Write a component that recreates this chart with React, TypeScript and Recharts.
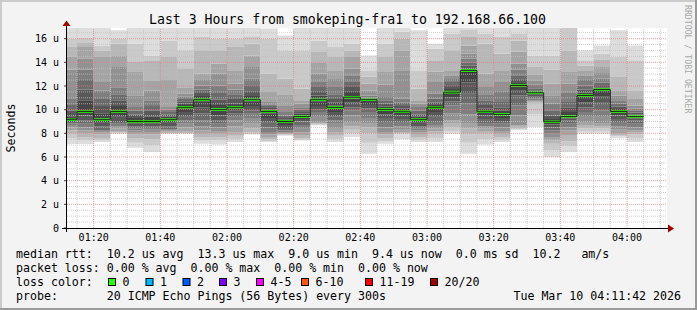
import React from "react";
import {
  ComposedChart,
  Area,
  Line,
  XAxis,
  YAxis,
  CartesianGrid,
  ReferenceLine,
} from "recharts";

// 5 minute slots (start time of each slot)
const slotTimes = [
  "01:10", "01:15", "01:20", "01:25", "01:30", "01:35", "01:40", "01:45", "01:50", "01:55",
  "02:00", "02:05", "02:10", "02:15", "02:20", "02:25", "02:30", "02:35", "02:40", "02:45",
  "02:50", "02:55", "03:00", "03:05", "03:10", "03:15", "03:20", "03:25", "03:30", "03:35",
  "03:40", "03:45", "03:50", "03:55", "04:00",
];
const slotEnd = "04:05";

// 20 sorted pings per slot (us)
const pings = [
  [7.1, 7.6, 7.97, 8.25, 8.5, 8.7, 8.85, 8.95, 9.05, 9.12, 9.2, 9.45, 9.9, 10.4, 10.9, 13.4, 14.45, 15.3, 16.0, 17.2],
  [7.1, 7.4, 7.7, 8.0, 8.25, 8.5, 8.8, 9.1, 9.5, 9.8, 9.9, 10.8, 11.7, 12.5, 13.4, 14.3, 15.3, 15.7, 16.1, 17.3],
  [7.26, 7.4, 7.6, 7.9, 8.1, 8.2, 8.25, 8.6, 8.9, 9.1, 9.25, 9.7, 10.3, 10.9, 11.6, 12.33, 14.45, 15.0, 15.43, 17.2],
  [7.97, 8.0, 8.1, 8.2, 8.4, 8.6, 8.8, 8.96, 9.4, 9.8, 9.9, 10.3, 10.8, 11.3, 11.9, 13.6, 14.6, 15.57, 16.0, 16.7],
  [6.78, 7.2, 7.6, 7.9, 8.11, 8.25, 8.4, 8.6, 8.8, 8.95, 9.05, 9.3, 9.6, 9.9, 10.22, 11.21, 13.18, 14.02, 15.57, 17.2],
  [6.42, 7.0, 7.5, 7.9, 8.11, 8.3, 8.45, 8.6, 8.8, 8.95, 9.05, 9.4, 9.9, 10.3, 10.79, 11.6, 12.48, 14.17, 14.58, 17.2],
  [7.97, 7.98, 8.0, 8.05, 8.15, 8.25, 8.35, 8.6, 8.9, 9.1, 9.24, 9.4, 9.6, 9.8, 10.0, 10.22, 12.5, 14.45, 15.8, 17.2],
  [7.97, 7.98, 8.0, 8.2, 8.5, 8.8, 9.1, 9.4, 9.8, 10.1, 10.3, 10.5, 10.7, 10.9, 11.1, 11.35, 11.9, 13.5, 15.01, 17.2],
  [7.12, 7.4, 7.7, 7.97, 8.25, 8.6, 9.1, 9.7, 10.2, 10.7, 10.93, 11.15, 11.4, 11.7, 12.05, 12.5, 13.04, 15.01, 16.14, 17.2],
  [7.06, 7.4, 7.7, 7.97, 8.2, 8.5, 8.8, 9.1, 9.5, 9.9, 10.08, 10.4, 10.84, 11.4, 12.05, 13.04, 13.88, 15.01, 16.0, 17.2],
  [7.26, 7.5, 7.8, 8.11, 8.6, 9.1, 9.4, 9.7, 9.95, 10.1, 10.25, 10.5, 10.9, 11.3, 11.7, 12.19, 13.32, 15.29, 16.0, 17.2],
  [7.9, 7.95, 8.1, 8.4, 8.81, 9.3, 9.66, 9.95, 10.3, 10.7, 10.93, 11.15, 11.5, 12.0, 12.62, 13.6, 14.58, 15.57, 16.2, 17.2],
  [7.26, 7.35, 7.5, 7.7, 7.9, 8.11, 8.5, 8.9, 9.3, 9.7, 9.9, 10.0, 10.15, 10.3, 10.45, 10.64, 11.49, 13.04, 15.99, 16.85],
  [7.8, 7.85, 7.9, 7.95, 8.0, 8.1, 8.25, 8.45, 8.7, 8.95, 9.05, 9.15, 9.3, 9.5, 9.8, 10.3, 11.3, 12.62, 15.0, 16.27],
  [7.4, 7.45, 7.6, 7.85, 8.1, 8.39, 8.7, 9.0, 9.2, 9.35, 9.52, 9.65, 9.8, 10.0, 10.2, 10.5, 10.79, 11.77, 15.0, 17.2],
  [8.67, 8.72, 8.78, 8.85, 8.96, 9.4, 9.8, 10.0, 10.3, 10.7, 10.93, 11.2, 11.5, 11.91, 12.4, 13.04, 13.95, 14.87, 15.85, 17.2],
  [7.26, 7.5, 7.8, 8.11, 8.45, 8.8, 9.1, 9.45, 9.8, 10.05, 10.36, 10.6, 10.9, 11.3, 11.91, 12.6, 13.32, 14.45, 15.29, 17.2],
  [7.69, 8.0, 8.3, 8.6, 8.96, 9.5, 9.94, 10.2, 10.6, 10.95, 11.1, 11.5, 11.91, 12.4, 12.9, 13.46, 14.45, 15.0, 15.57, 17.2],
  [6.28, 7.2, 8.0, 8.5, 8.81, 9.3, 9.8, 10.1, 10.4, 10.8, 10.93, 10.96, 11.0, 11.05, 11.2, 11.6, 12.19, 12.8, 13.32, 14.58],
  [7.12, 7.35, 7.6, 7.9, 8.11, 8.5, 8.96, 9.3, 9.6, 9.9, 10.08, 10.25, 10.5, 10.8, 11.07, 12.1, 13.18, 14.45, 15.57, 17.2],
  [7.5, 7.9, 8.0, 8.11, 8.3, 8.6, 8.96, 9.2, 9.5, 9.75, 9.94, 10.1, 10.3, 10.6, 10.93, 13.32, 15.01, 16.0, 16.6, 17.2],
  [7.26, 7.45, 7.7, 7.95, 8.1, 8.25, 8.4, 8.6, 8.9, 9.1, 9.24, 9.4, 9.6, 9.9, 10.22, 10.5, 10.79, 11.77, 13.32, 16.7],
  [7.26, 7.6, 7.97, 8.15, 8.4, 8.7, 8.96, 9.4, 9.8, 10.1, 10.22, 10.4, 10.6, 10.95, 11.35, 12.33, 13.2, 14.17, 15.15, 15.57],
  [7.97, 8.2, 8.5, 8.8, 9.1, 9.7, 10.36, 10.7, 11.0, 11.4, 11.52, 11.75, 12.0, 12.33, 12.6, 12.9, 13.32, 15.01, 16.42, 17.2],
  [6.28, 7.2, 7.97, 8.4, 8.81, 9.6, 10.5, 11.35, 12.3, 13.1, 13.35, 13.5, 13.7, 14.0, 14.3, 14.73, 15.4, 16.14, 16.8, 17.2],
  [7.06, 7.5, 7.97, 8.2, 8.4, 8.6, 8.81, 9.2, 9.5, 9.75, 9.9, 10.1, 10.4, 10.79, 11.3, 11.91, 13.04, 15.57, 16.42, 17.2],
  [7.26, 7.45, 7.7, 7.97, 8.2, 8.5, 8.81, 9.05, 9.3, 9.55, 9.68, 9.9, 10.2, 10.64, 11.49, 12.33, 13.32, 14.73, 16.14, 17.2],
  [8.25, 8.35, 8.45, 8.55, 8.67, 9.5, 10.36, 11.21, 11.6, 12.0, 12.08, 12.25, 12.5, 12.9, 13.4, 13.88, 14.9, 15.85, 16.4, 17.2],
  [8.53, 9.6, 10.5, 10.6, 10.7, 10.8, 10.95, 11.1, 11.25, 11.38, 11.49, 11.55, 11.65, 11.8, 12.1, 12.48, 13.0, 13.6, 14.58, 17.2],
  [6.0, 6.6, 7.12, 7.4, 7.7, 7.97, 8.25, 8.5, 8.75, 8.92, 9.05, 9.2, 9.5, 9.94, 10.5, 11.21, 12.19, 13.4, 14.58, 17.2],
  [6.42, 6.9, 7.3, 7.8, 8.25, 8.5, 8.8, 9.1, 9.25, 9.38, 9.52, 9.8, 10.2, 10.64, 11.4, 12.19, 13.18, 15.0, 16.9, 17.2],
  [7.97, 8.15, 8.4, 8.7, 8.96, 9.4, 9.8, 10.2, 10.6, 11.1, 11.28, 11.45, 11.7, 12.05, 12.5, 12.9, 13.32, 13.7, 14.17, 15.01],
  [7.97, 8.2, 8.4, 8.6, 8.81, 9.4, 9.94, 10.64, 11.1, 11.6, 11.77, 11.85, 12.0, 12.3, 12.62, 13.1, 13.6, 14.2, 14.73, 15.43],
  [7.6, 7.75, 7.85, 7.97, 8.3, 8.6, 8.96, 9.2, 9.5, 9.75, 9.94, 10.05, 10.25, 10.5, 10.79, 11.2, 11.63, 12.76, 14.45, 16.7],
  [7.26, 7.6, 7.9, 8.1, 8.25, 8.5, 8.8, 9.1, 9.25, 9.38, 9.52, 9.6, 9.75, 9.9, 10.1, 10.36, 10.9, 11.63, 14.17, 15.43],
];

// median rtt per slot (us)
const medians = [
  9.15, 9.85, 9.15, 9.85, 9.0, 9.0, 9.15, 10.2, 10.84, 10.0,
  10.2, 10.84, 9.85, 9.0, 9.43, 10.84, 10.17, 11.05, 10.84, 10.0,
  9.82, 9.15, 10.16, 11.48, 13.3, 9.82, 9.6, 12.04, 11.43, 8.98,
  9.43, 11.2, 11.7, 9.85, 9.43,
];

const yTicks = [0, 2, 4, 6, 8, 10, 12, 14, 16];
const xTickLabels = ["01:20", "01:40", "02:00", "02:20", "02:40", "03:00", "03:20", "03:40", "04:00"];
const viewStart = "01:12";
const viewEnd = "04:12";
const yMax = 16.9;

const legendRows = [
  "median rtt:  10.2 us avg  13.3 us max  9.0 us min  9.4 us now  0.0 ms sd  10.2   am/s",
  "packet loss: 0.00 % avg  0.00 % max  0.00 % min  0.00 % now",
  "loss color:",
  "probe:       20 ICMP Echo Pings (56 Bytes) every 300s",
];
const lossLabels = ["0", "1", "2", "3", "4-5", "6-10", "11-19", "20/20"];
const lossColors = ["#26ff00", "#00b8ff", "#0059ff", "#7e00ff", "#ff00ff", "#ff5500", "#ff0000", "#a10000"];
const lossBoxX = [108, 145.5, 182.5, 219, 256, 301, 365, 430];
const stamp = "Tue Mar 10 04:11:42 2026";
const title = "Last 3 Hours from smokeping-fra1 to 192.168.66.100";

const W = 697;
const H = 310;
const MONO = '"DejaVu Sans Mono", monospace';
const MED_HALF = 0.11;

const toMin = (s: string) => {
  const [h, m] = s.split(":").map(Number);
  return h * 60 + m;
};
const fmt = (v: number) =>
  `${String(Math.floor(v / 60)).padStart(2, "0")}:${String(v % 60).padStart(2, "0")}`;

const segs = Array.from({ length: 19 }, (_, i) => i + 1);
const grey = (k: number) => {
  const layer = Math.min(k, 20 - k);
  const c = Math.floor((190 / 10) * (10 - layer)) + 50;
  const h = c.toString(16).padStart(2, "0");
  return `#${h}${h}${h}`;
};

const rows = slotTimes.map((t, i) => {
  const p = pings[i];
  const r: Record<string, number> = {
    t: toMin(t),
    base: p[0],
    med: medians[i],
    medLo: medians[i] - MED_HALF,
    medBand: MED_HALF * 2,
  };
  segs.forEach((k) => {
    r["s" + k] = p[k] - p[k - 1];
  });
  return r;
});
rows.push({ ...rows[rows.length - 1], t: toMin(slotEnd) });

const x0 = toMin(viewStart);
const x1 = toMin(viewEnd);
const minorY: number[] = [];
for (let v = 0.5; v < yMax; v += 0.5) if (v % 2 !== 0) minorY.push(v);
const majorY = yTicks.filter((v) => v > 0);
const minorX: number[] = [];
for (let m = Math.ceil(x0 / 5) * 5; m <= x1; m += 5) if (m % 20 !== 0) minorX.push(m);
const majorX = xTickLabels.map(toMin);

const App = () => {
  return (
    <div
      style={{
        position: "absolute",
        left: 0,
        top: 0,
        width: W,
        height: H,
        background: "#f3f3f3",
        overflow: "hidden",
      }}
    >
      <ComposedChart
        width={W}
        height={H}
        data={rows}
        margin={{ top: 28, right: 30, bottom: 62, left: 7 }}
      >
        <CartesianGrid horizontal={false} vertical={false} fill="#ffffff" />
        <XAxis
          type="number"
          dataKey="t"
          domain={[x0, x1]}
          allowDataOverflow
          ticks={majorX}
          interval={0}
          tickFormatter={fmt}
          height={20}
          axisLine={false}
          tickLine={false}
          tickSize={2}
          tickMargin={4}
          tick={{ fontFamily: MONO, fontSize: 10, fill: "#000" }}
        />
        <YAxis
          type="number"
          domain={[0, yMax]}
          allowDataOverflow
          ticks={yTicks}
          interval={0}
          width={60}
          axisLine={false}
          tickLine={{ stroke: "#444" }}
          tickSize={3}
          tickMargin={5}
          tickFormatter={(v: number) => (v === 0 ? "0" : `${v} u`)}
          tick={{ fontFamily: MONO, fontSize: 10, fill: "#000" }}
        />
        <Area
          type="stepAfter"
          dataKey="base"
          stackId="smoke"
          stroke="none"
          fill="none"
          isAnimationActive={false}
          activeDot={false}
        />
        {segs.map((k) => (
          <Area
            key={k}
            type="stepAfter"
            dataKey={"s" + k}
            stackId="smoke"
            stroke="none"
            fill={grey(k)}
            fillOpacity={1}
            isAnimationActive={false}
            activeDot={false}
          />
        ))}
        {minorY.map((v) => (
          <ReferenceLine key={"my" + v} y={v} stroke="#c0c0c0" strokeOpacity={0.8} strokeDasharray="1 1" />
        ))}
        {minorX.map((v) => (
          <ReferenceLine key={"mx" + v} x={v} stroke="#c0c0c0" strokeOpacity={0.8} strokeDasharray="1 1" />
        ))}
        {majorY.map((v) => (
          <ReferenceLine key={"My" + v} y={v} stroke="#e08080" strokeOpacity={0.75} strokeDasharray="1 1" />
        ))}
        {majorX.map((v) => (
          <ReferenceLine key={"Mx" + v} x={v} stroke="#e08080" strokeOpacity={0.75} strokeDasharray="1 1" />
        ))}
        <Line
          type="stepAfter"
          dataKey="med"
          stroke="#202020"
          strokeWidth={1}
          dot={false}
          activeDot={false}
          isAnimationActive={false}
        />
        <Area
          type="stepAfter"
          dataKey="medLo"
          stackId="med"
          stroke="none"
          fill="none"
          isAnimationActive={false}
          activeDot={false}
        />
        <Area
          type="stepAfter"
          dataKey="medBand"
          stackId="med"
          stroke="none"
          fill={lossColors[0]}
          fillOpacity={1}
          isAnimationActive={false}
          activeDot={false}
        />
      </ComposedChart>

      <svg
        width={W}
        height={H}
        style={{ position: "absolute", left: 0, top: 0, pointerEvents: "none" }}
      >
        {/* frame */}
        <line x1={0} y1={1} x2={W} y2={1} stroke="#cbcbcb" strokeWidth={2} />
        <line x1={1} y1={0} x2={1} y2={H} stroke="#cbcbcb" strokeWidth={2} />
        <line x1={0} y1={H - 1} x2={W} y2={H - 1} stroke="#999" strokeWidth={2} />
        <line x1={W - 1} y1={0} x2={W - 1} y2={H} stroke="#999" strokeWidth={2} />

        {/* axes with arrows */}
        <line x1={62} y1={228.5} x2={669} y2={228.5} stroke="#000" strokeWidth={1} />
        <polygon points="668,224.5 674,228.5 668,232.5" fill="#a00000" />
        <line x1={66.5} y1={232} x2={66.5} y2={26} stroke="#000" strokeWidth={1} />
        <polygon points="62.5,26 66.5,20.5 70.5,26" fill="#a00000" />

        <text
          x={347.5}
          y={19.5}
          textAnchor="middle"
          dominantBaseline="central"
          fontFamily={MONO}
          fontSize={13.2}
          fill="#000"
        >
          {title}
        </text>

        <text
          transform="translate(11,128) rotate(-90)"
          textAnchor="middle"
          dominantBaseline="central"
          fontFamily={MONO}
          fontSize={11.6}
          fill="#000"
        >
          Seconds
        </text>

        <text
          transform="translate(688,5) rotate(90)"
          dominantBaseline="central"
          fontFamily={MONO}
          fontSize={8.2}
          fill="#a8a8a8"
        >
          RRDTOOL / TOBI OETIKER
        </text>

        {legendRows.map((r, i) => (
          <text
            key={i}
            x={16}
            y={254 + i * 14.1}
            dominantBaseline="central"
            fontFamily={MONO}
            fontSize={11.6}
            fill="#000"
            style={{ whiteSpace: "pre" }}
          >
            {r}
          </text>
        ))}
        {lossLabels.map((l, i) => (
          <g key={l}>
            <rect
              x={lossBoxX[i] + 0.5}
              y={278.5}
              width={7}
              height={7}
              fill={lossColors[i]}
              stroke="#000"
              strokeWidth={1}
            />
            <text
              x={lossBoxX[i] + 14.5}
              y={282.3}
              dominantBaseline="central"
              fontFamily={MONO}
              fontSize={11.6}
              fill="#000"
            >
              {l}
            </text>
          </g>
        ))}
        <text
          x={681}
          y={254 + 3 * 14.1}
          textAnchor="end"
          dominantBaseline="central"
          fontFamily={MONO}
          fontSize={11.6}
          fill="#000"
        >
          {stamp}
        </text>
      </svg>
    </div>
  );
};

export default App;
